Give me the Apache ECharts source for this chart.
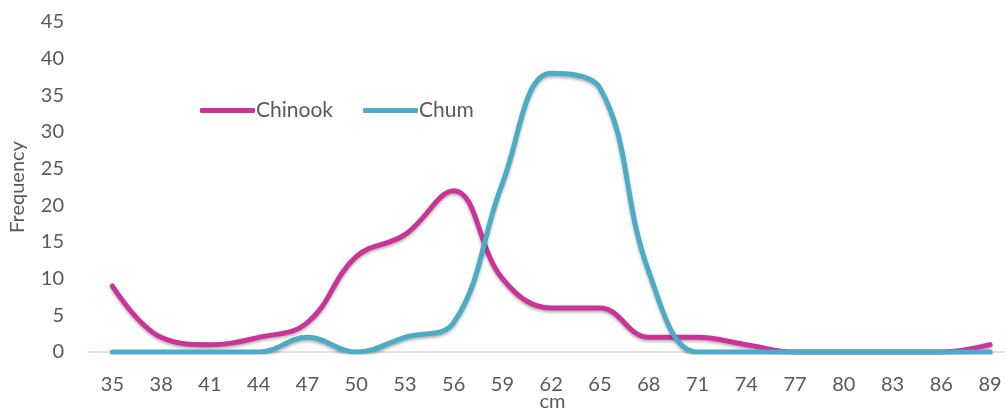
<!DOCTYPE html>
<html>
<head>
<meta charset="utf-8">
<script src="https://cdn.jsdelivr.net/npm/echarts@6/dist/echarts.min.js"></script>
<style>
  html, body { margin: 0; padding: 0; background: #fff; }
  #chart { width: 1005px; height: 413px; }
</style>
</head>
<body>
<div id="chart"></div>
<script>
// Length classes (cm)
const lengths = [35, 38, 41, 44, 47, 50, 53, 56, 59, 62, 65, 68, 71, 74, 77, 80, 83, 86, 89];
// Fish counts per length class
const chinook = [9, 2, 1, 2, 4, 13, 16, 22, 10, 6, 6, 2, 2, 1, 0, 0, 0, 0, 1];
const chum    = [0, 0, 0, 0, 2, 0, 2, 4, 23, 38, 36, 11, 0, 0, 0, 0, 0, 0, 0];
const yTicks = { min: 0, max: 45, interval: 5 };
// Horizontal extent of the length axis (half a class before the first, a bit past the last)
const xRange = { min: 33.5, max: 89.92 };

const font = 'Lato, "Open Sans", sans-serif';
const textColor = '#595959';

const pairs = (ys) => lengths.map((x, i) => [x, ys[i]]);

const lineStyle = (color) => ({
  width: 5,
  color: color,
  cap: 'round',
  shadowColor: 'rgba(0,0,0,0.3)',
  shadowBlur: 3,
  shadowOffsetY: 2
});

const chart = echarts.init(document.getElementById('chart'));
chart.setOption({
  animation: false,
  grid: { left: 88, top: 22, right: 0, height: 330, containLabel: false, outerBoundsMode: 'none' },
  legend: {
    left: 195,
    top: 95,
    itemWidth: 55,
    itemHeight: 5,
    itemGap: 30,
    icon: 'roundRect',
    textStyle: { fontFamily: font, fontSize: 21, color: textColor, padding: [0, 0, 0, -4] },
    data: ['Chinook', 'Chum']
  },
  xAxis: {
    type: 'value',
    min: xRange.min,
    max: xRange.max,
    name: 'cm',
    nameLocation: 'middle',
    nameGap: 40,
    nameMoveOverlap: false,
    nameTextStyle: { fontFamily: font, fontSize: 20, color: textColor, padding: [0, 0, 0, 12] },
    axisLine: { onZero: false, lineStyle: { color: '#d9d9d9', width: 1.5 } },
    axisTick: { show: false },
    axisLabel: {
      fontFamily: font, fontSize: 20, color: textColor, margin: 23,
      customValues: lengths,
      showMinLabel: true, showMaxLabel: true
    },
    splitLine: { show: false }
  },
  yAxis: {
    type: 'value',
    min: yTicks.min,
    max: yTicks.max,
    interval: yTicks.interval,
    name: 'Frequency',
    nameLocation: 'middle',
    nameGap: 60,
    nameMoveOverlap: false,
    nameTextStyle: { fontFamily: font, fontSize: 20, color: textColor },
    axisLine: { show: false },
    axisTick: { show: false },
    axisLabel: { fontFamily: font, fontSize: 20, color: textColor, margin: 24 },
    splitLine: { show: false }
  },
  series: [
    {
      name: 'Chinook',
      type: 'line',
      data: pairs(chinook),
      smooth: 0.4,
      showSymbol: false,
      color: '#cc3399',
      lineStyle: lineStyle('#cc3399'),
      z: 2
    },
    {
      name: 'Chum',
      type: 'line',
      data: pairs(chum),
      smooth: 0.4,
      showSymbol: false,
      color: '#4bacc6',
      lineStyle: lineStyle('#4bacc6'),
      z: 3
    }
  ]
});
</script>
</body>
</html>
